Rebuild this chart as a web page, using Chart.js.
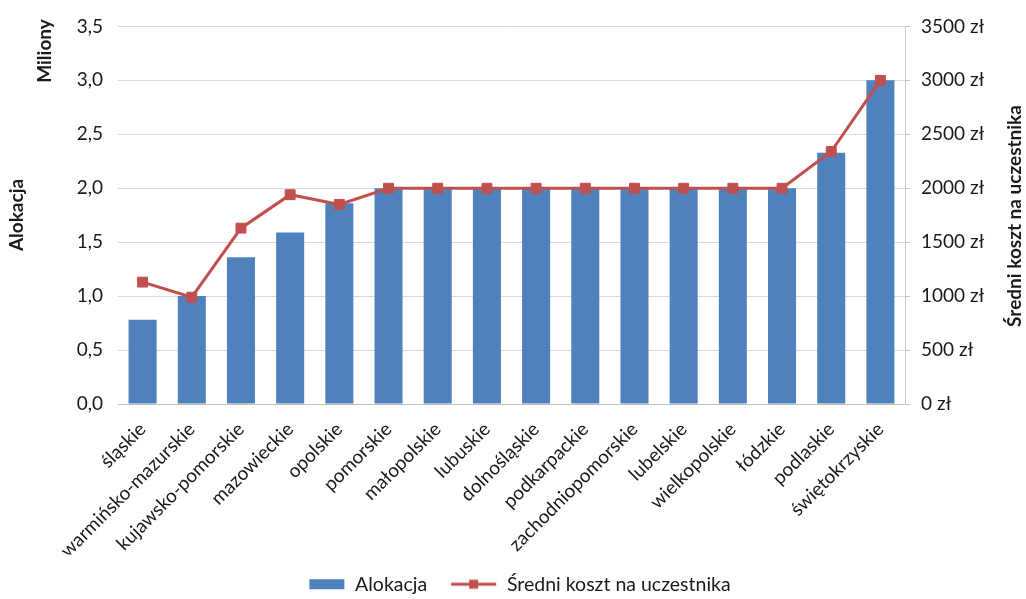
<!DOCTYPE html>
<html>
<head>
<meta charset="utf-8">
<script src="https://cdn.jsdelivr.net/npm/chart.js@4/dist/chart.umd.min.js"></script>
<style>
  html, body { margin: 0; padding: 0; background: #ffffff; }
  #wrap { width: 1026px; height: 599px; position: relative; }
</style>
</head>
<body>
<div id="wrap"><canvas id="c" width="1026" height="599"></canvas></div>
<script>
// Voivodeships, sorted by allocation
const categories = ['śląskie', 'warmińsko-mazurskie', 'kujawsko-pomorskie', 'mazowieckie', 'opolskie',
  'pomorskie', 'małopolskie', 'lubuskie', 'dolnośląskie', 'podkarpackie', 'zachodniopomorskie',
  'lubelskie', 'wielkopolskie', 'łódzkie', 'podlaskie', 'świętokrzyskie'];

// Allocation in millions (left axis)
const alokacja = [0.78, 1.0, 1.36, 1.59, 1.86, 2.0, 2.0, 2.0, 2.0, 2.0, 2.0, 2.0, 2.0, 2.0, 2.33, 3.0];

// Average cost per participant in zł (right axis)
const sredniKoszt = [1130, 990, 1630, 1940, 1850, 2000, 2000, 2000, 2000, 2000, 2000, 2000, 2000, 2000, 2340, 3000];

// Axis tick values
const leftTicks = [0, 0.5, 1.0, 1.5, 2.0, 2.5, 3.0, 3.5];
const rightTicks = [0, 500, 1000, 1500, 2000, 2500, 3000, 3500];

const FONT = 'Lato, "Open Sans", sans-serif';
const TEXT = '#1a1a1a';
const BLUE = '#4F81BD';
const RED = '#C0504D';
const TICK_SIZE = 19;
const LEGEND_SIZE = 19.5;

// Legend swatches: a wide bar block and a line with a square marker
function barSwatch() {
  const cv = document.createElement('canvas');
  cv.width = 50; cv.height = 12;
  const g = cv.getContext('2d');
  g.fillStyle = BLUE;
  g.fillRect(14, 1, 35, 10);
  return cv;
}
function lineSwatch() {
  const cv = document.createElement('canvas');
  cv.width = 50; cv.height = 12;
  const g = cv.getContext('2d');
  g.strokeStyle = RED;
  g.lineWidth = 3;
  g.beginPath(); g.moveTo(4, 6); g.lineTo(49, 6); g.stroke();
  g.fillStyle = RED;
  g.fillRect(22, 1.5, 9, 9);
  return cv;
}
const swatches = [barSwatch(), lineSwatch()];

// Rotated axis titles
const axisTitles = {
  id: 'axisTitles',
  afterDraw(chart) {
    const ctx = chart.ctx;
    const draw = (text, x, y) => {
      ctx.save();
      ctx.translate(x, y);
      ctx.rotate(-Math.PI / 2);
      ctx.font = 'bold 19px ' + FONT;
      ctx.fillStyle = TEXT;
      ctx.textAlign = 'center';
      ctx.textBaseline = 'middle';
      ctx.fillText(text, 0, 0);
      ctx.restore();
    };
    draw('Miliony', 45, 51);
    draw('Alokacja', 17, 215);
    draw('Średni koszt na uczestnika', 1015, 216);
  }
};

new Chart(document.getElementById('c'), {
  data: {
    labels: categories,
    datasets: [
      {
        type: 'line',
        label: 'Średni koszt na uczestnika',
        data: sredniKoszt,
        yAxisID: 'yRight',
        borderColor: RED,
        backgroundColor: RED,
        borderWidth: 3,
        pointStyle: 'rect',
        pointRadius: 7,
        pointBackgroundColor: RED,
        pointBorderColor: RED,
        pointBorderWidth: 1,
        tension: 0,
        order: 1
      },
      {
        type: 'bar',
        label: 'Alokacja',
        data: alokacja,
        yAxisID: 'yLeft',
        backgroundColor: BLUE,
        borderWidth: 0,
        categoryPercentage: 1.0,
        barPercentage: 0.57,
        order: 2
      }
    ]
  },
  options: {
    responsive: false,
    animation: false,
    layout: { padding: { left: 0, right: 0, top: 25, bottom: -5 } },
    plugins: {
      tooltip: { enabled: false },
      legend: {
        display: true,
        position: 'bottom',
        labels: {
          usePointStyle: true,
          pointStyleWidth: 50,
          padding: 20,
          color: TEXT,
          font: { family: FONT, size: LEGEND_SIZE },
          generateLabels(chart) {
            return [1, 0].map((di, k) => {
              const ds = chart.data.datasets[di];
              return {
                text: ds.label,
                datasetIndex: di,
                pointStyle: swatches[k],
                fillStyle: ds.backgroundColor,
                strokeStyle: ds.backgroundColor,
                lineWidth: 0,
                hidden: false,
                fontColor: TEXT
              };
            });
          }
        }
      }
    },
    scales: {
      x: {
        position: 'bottom',
        grid: { display: false, drawTicks: false },
        border: { display: true, color: '#bfbfbf', width: 1 },
        ticks: {
          color: TEXT,
          font: { family: FONT, size: TICK_SIZE },
          minRotation: 45,
          maxRotation: 45,
          autoSkip: false,
          padding: 14
        },
        afterFit(s) { s.height = 150.5; }
      },
      yLeft: {
        type: 'linear',
        position: 'left',
        min: 0,
        max: 3.5,
        afterBuildTicks(s) { s.ticks = leftTicks.map(v => ({ value: v })); },
        grid: { color: '#d9d9d9', lineWidth: 1, drawTicks: false },
        border: { display: false },
        ticks: {
          color: TEXT,
          font: { family: FONT, size: TICK_SIZE },
          padding: 15,
          callback: v => Number(v).toFixed(1).replace('.', ',')
        },
        afterFit(s) { s.width = 118; }
      },
      yRight: {
        type: 'linear',
        position: 'right',
        min: 0,
        max: 3500,
        afterBuildTicks(s) { s.ticks = rightTicks.map(v => ({ value: v })); },
        grid: { drawOnChartArea: false, color: '#c8c8c8', tickLength: 5 },
        border: { display: true, color: '#c8c8c8', width: 1 },
        ticks: {
          color: TEXT,
          font: { family: FONT, size: TICK_SIZE },
          padding: 11,
          callback: v => v + ' zł'
        },
        afterFit(s) { s.width = 121; }
      }
    }
  },
  plugins: [axisTitles]
});
</script>
</body>
</html>
